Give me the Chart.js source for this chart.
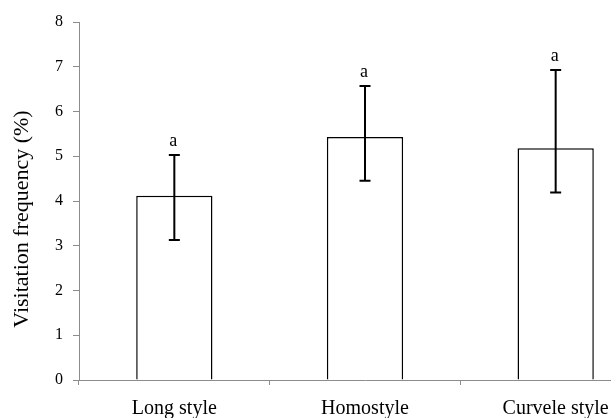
<!DOCTYPE html>
<html>
<head>
<meta charset="utf-8">
<script src="https://cdn.jsdelivr.net/npm/chart.js@4.4.1/dist/chart.umd.min.js"></script>
<style>
  html, body { margin: 0; padding: 0; background: #fff; overflow: hidden; }
  #wrap { position: relative; width: 651px; height: 418px; }
</style>
</head>
<body>
<div id="wrap"><canvas id="c" width="651" height="418"></canvas></div>
<script>
const categories = ['Long style', 'Homostyle', 'Curvele style'];
const means = [4.12, 5.43, 5.18];
const errUpper = [5.03, 6.57, 6.93];
const errLower = [3.13, 4.45, 4.19];
const sigLetters = ['a', 'a', 'a'];
const yTicks = [0, 1, 2, 3, 4, 5, 6, 7, 8];
const yTitle = 'Visitation frequency (%)';

const FONT = "'Liberation Serif', 'Times New Roman', serif";
const AXIS = '#8c8c8c';

const errorBars = {
  id: 'errorBars',
  afterDatasetsDraw(chart) {
    const { ctx, scales: { x, y }, chartArea } = chart;
    ctx.save();
    ctx.strokeStyle = '#000';
    ctx.lineWidth = 2;
    const cap = 5.5;
    categories.forEach((c, i) => {
      const px = x.getPixelForValue(i);
      const yt = y.getPixelForValue(errUpper[i]);
      const yb = y.getPixelForValue(errLower[i]);
      ctx.beginPath();
      ctx.moveTo(px, yt); ctx.lineTo(px, yb);
      ctx.moveTo(px - cap, yt); ctx.lineTo(px + cap, yt);
      ctx.moveTo(px - cap, yb); ctx.lineTo(px + cap, yb);
      ctx.stroke();
      ctx.fillStyle = '#000';
      ctx.font = '18px ' + FONT;
      ctx.textAlign = 'center';
      ctx.textBaseline = 'alphabetic';
      ctx.fillText(sigLetters[i], px - 1, yt - 9);
    });
    // y-axis title
    ctx.translate(22, (chartArea.top + chartArea.bottom) / 2 + 18);
    ctx.rotate(-Math.PI / 2);
    ctx.font = '22px ' + FONT;
    ctx.textAlign = 'center';
    ctx.textBaseline = 'middle';
    ctx.fillStyle = '#000';
    ctx.fillText(yTitle, 0, 0);
    ctx.restore();
  }
};

new Chart(document.getElementById('c'), {
  type: 'bar',
  data: {
    labels: categories,
    datasets: [{
      data: means,
      backgroundColor: '#ffffff',
      borderColor: '#000000',
      borderWidth: 1.5,
      barPercentage: 0.4,
      categoryPercentage: 1.0
    }]
  },
  options: {
    responsive: false,
    animation: false,
    devicePixelRatio: 1,
    layout: { padding: { top: 22, right: 0, bottom: 0, left: 0 } },
    plugins: { legend: { display: false }, tooltip: { enabled: false } },
    scales: {
      x: {
        grid: { display: true, drawOnChartArea: false, drawTicks: true, tickLength: 5, color: AXIS, offset: true },
        border: { display: true, color: AXIS, width: 1 },
        ticks: { color: '#000', font: { family: FONT, size: 20 }, padding: 12, maxRotation: 0 },
        afterFit(s) { s.height = 38; }
      },
      y: {
        min: 0, max: 8,
        afterBuildTicks(s) { s.ticks = yTicks.map(v => ({ value: v })); },
        grid: { display: true, drawOnChartArea: false, drawTicks: true, tickLength: 6, color: AXIS },
        border: { display: true, color: AXIS, width: 1 },
        ticks: { color: '#000', font: { family: FONT, size: 16 }, padding: 10 },
        title: { display: false },
        afterFit(s) { s.width = 79; }
      }
    }
  },
  plugins: [errorBars]
});
</script>
</body>
</html>
